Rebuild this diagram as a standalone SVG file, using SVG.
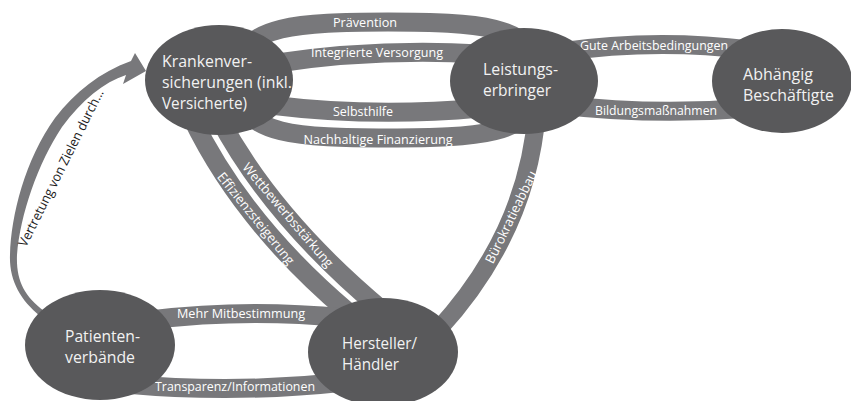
<svg xmlns="http://www.w3.org/2000/svg" width="851" height="401" viewBox="0 0 851 401">
<style>
.band{fill:none;stroke:#78787b;stroke-width:19}
.arrow{fill:#78787b}
.node{fill:#59595b}
.nt{font-family:"Open Sans","Liberation Sans",sans-serif;font-size:17px;fill:#f2f2f2}
.bl{font-family:"Open Sans","Liberation Sans",sans-serif;font-size:13.2px;fill:#ffffff;text-anchor:middle}
.dl{font-family:"Open Sans","Liberation Sans",sans-serif;font-size:13.2px;fill:#1e1e1e;text-anchor:middle}
</style>
<rect width="851" height="401" fill="#ffffff"/>
<g id="connectors">
  <path id="c-praevention" class="band" d="M240,70 C240,25 300,22 388,22 C476,22 535,25 535,70"/>
  <path id="c-nachhaltig" class="band" d="M240,90 C240,135 300,138 388,138 C476,138 535,135 535,90"/>
  <path id="c-integriert" class="band" d="M270,64 Q375,48 480,54"/>
  <path id="c-selbsthilfe" class="band" d="M270,105 Q375,118 480,108"/>
  <path id="c-gute" class="band" d="M560,52 Q655,38 750,50"/>
  <path id="c-bildung" class="band" d="M560,105 Q655,116 750,108"/>
  <path id="c-effizienz" class="band" d="M192,118 Q242,222 348,312"/>
  <path id="c-wettbewerb" class="band" d="M219,118 Q272,218 382,310"/>
  <path id="c-buerokratie" class="band" style="stroke-width:18" d="M537,110 Q528,232 438,330"/>
  <path id="c-mitbestimmung" class="band" d="M150,320 Q245,308 345,318"/>
  <path id="c-transparenz" class="band" d="M125,384 Q235,394 345,382"/>
  <path id="c-vertretung" class="arrow" d="M40,316 C20,300 9,280 10,255 C11,215 25,160 55,118 C75,92 100,72 131,61 L135,53 L146,71 L123,84 L126,75 C104,82 82,100 62,127 C38,163 20,215 17,255 C16,280 24,296 44,311 Z"/>

  <text class="bl" x="365" y="27" textLength="64" lengthAdjust="spacingAndGlyphs">Prävention</text>
  <text class="bl" x="377" y="57" textLength="132" lengthAdjust="spacingAndGlyphs">Integrierte Versorgung</text>
  <text class="bl" x="363" y="116" textLength="60" lengthAdjust="spacingAndGlyphs">Selbsthilfe</text>
  <text class="bl" x="378" y="144" textLength="149" lengthAdjust="spacingAndGlyphs">Nachhaltige Finanzierung</text>
  <text class="bl" x="654" y="50" textLength="148" lengthAdjust="spacingAndGlyphs">Gute Arbeitsbedingungen</text>
  <text class="bl" x="656" y="115" textLength="122" lengthAdjust="spacingAndGlyphs">Bildungsmaßnahmen</text>
  <text class="bl" x="241" y="318" textLength="128" lengthAdjust="spacingAndGlyphs">Mehr Mitbestimmung</text>
  <text class="bl" x="235" y="391" textLength="160" lengthAdjust="spacingAndGlyphs">Transparenz/Informationen</text>
  <text class="bl" x="0" y="0" dy="4.6" textLength="114" lengthAdjust="spacingAndGlyphs" transform="translate(256,218.5) rotate(51)">Effizienzsteigerung</text>
  <text class="bl" x="0" y="0" dy="4.6" textLength="132" lengthAdjust="spacingAndGlyphs" transform="translate(288,215) rotate(49.5)">Wettbewerbsstärkung</text>
  <text class="bl" x="0" y="0" dy="4.6" textLength="101" lengthAdjust="spacingAndGlyphs" transform="translate(511,217) rotate(-64)">Bürokratieabbau</text>
  <text class="dl" x="0" y="0" textLength="174" lengthAdjust="spacingAndGlyphs" transform="translate(65,170) rotate(-63.4)">Vertretung von Zielen durch...</text>
</g>
<g id="node-krankenversicherungen">
  <ellipse class="node" cx="219" cy="80" rx="74" ry="55"/>
  <text class="nt" x="162" y="67" textLength="90" lengthAdjust="spacingAndGlyphs">Krankenver-</text>
  <text class="nt" x="162" y="88" textLength="130" lengthAdjust="spacingAndGlyphs">sicherungen (inkl.</text>
  <text class="nt" x="162" y="109" textLength="85" lengthAdjust="spacingAndGlyphs">Versicherte)</text>
</g>
<g id="node-leistungserbringer">
  <ellipse class="node" cx="524" cy="81" rx="74" ry="53"/>
  <text class="nt" x="483" y="75" textLength="75" lengthAdjust="spacingAndGlyphs">Leistungs-</text>
  <text class="nt" x="483" y="96" textLength="68" lengthAdjust="spacingAndGlyphs">erbringer</text>
</g>
<g id="node-abhaengig">
  <ellipse class="node" cx="782" cy="81" rx="70" ry="52"/>
  <text class="nt" x="743" y="80" textLength="70" lengthAdjust="spacingAndGlyphs">Abhängig</text>
  <text class="nt" x="743" y="101" textLength="91" lengthAdjust="spacingAndGlyphs">Beschäftigte</text>
</g>
<g id="node-patientenverbaende">
  <ellipse class="node" cx="100" cy="345" rx="75" ry="55"/>
  <text class="nt" x="65" y="342" textLength="75" lengthAdjust="spacingAndGlyphs">Patienten-</text>
  <text class="nt" x="65" y="363" textLength="70" lengthAdjust="spacingAndGlyphs">verbände</text>
</g>
<g id="node-hersteller">
  <ellipse class="node" cx="383" cy="352" rx="75" ry="54"/>
  <text class="nt" x="342" y="349" textLength="75" lengthAdjust="spacingAndGlyphs">Hersteller/</text>
  <text class="nt" x="342" y="370" textLength="57" lengthAdjust="spacingAndGlyphs">Händler</text>
</g>
</svg>
